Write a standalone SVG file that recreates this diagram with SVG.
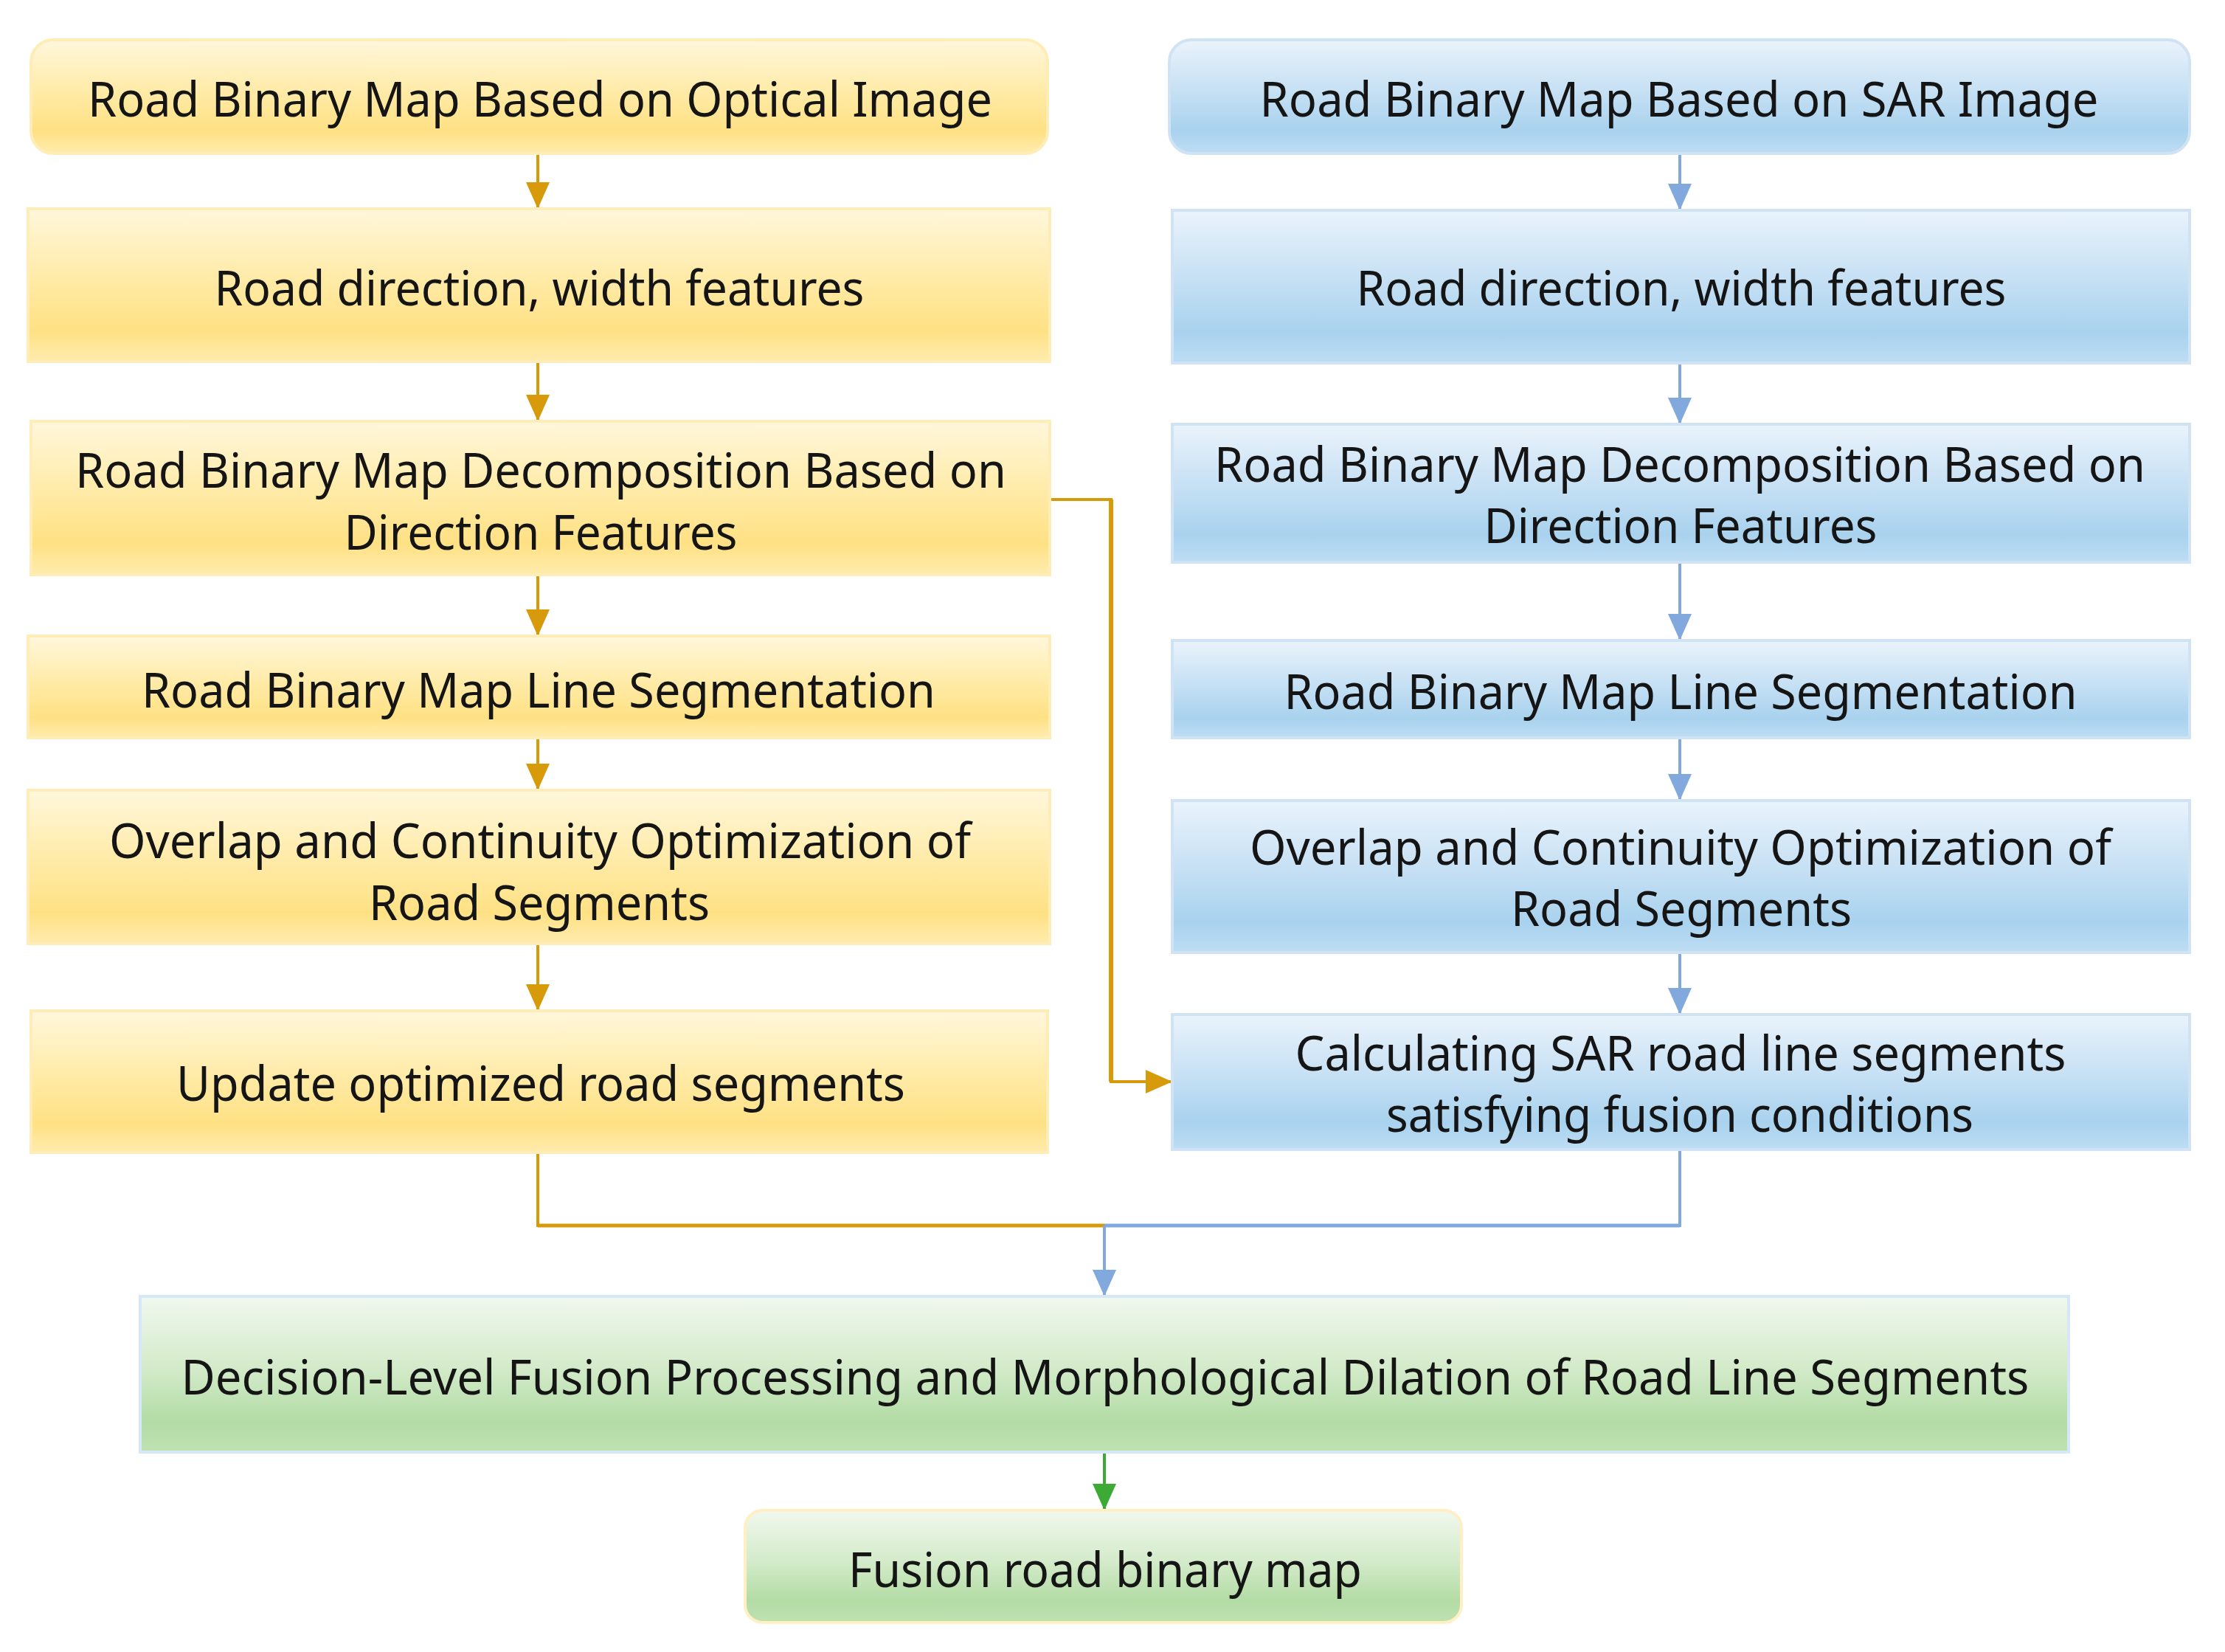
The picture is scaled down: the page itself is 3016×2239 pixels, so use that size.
<svg xmlns="http://www.w3.org/2000/svg" width="3016" height="2239" viewBox="0 0 3016 2239">
<defs>
<linearGradient id="gy" x1="0" y1="0" x2="0" y2="1">
<stop offset="0" stop-color="#FFF7DC"/>
<stop offset="0.45" stop-color="#FFEBA8"/>
<stop offset="0.8" stop-color="#FFE184"/>
<stop offset="1" stop-color="#FFEBAE"/>
</linearGradient>
<linearGradient id="gb" x1="0" y1="0" x2="0" y2="1">
<stop offset="0" stop-color="#EAF3FB"/>
<stop offset="0.45" stop-color="#C6E0F4"/>
<stop offset="0.8" stop-color="#A9D2EE"/>
<stop offset="1" stop-color="#BEDDF3"/>
</linearGradient>
<linearGradient id="gg" x1="0" y1="0" x2="0" y2="1">
<stop offset="0" stop-color="#F1F8EE"/>
<stop offset="0.45" stop-color="#D4EBCB"/>
<stop offset="0.8" stop-color="#B3DCA5"/>
<stop offset="1" stop-color="#BFE1B2"/>
</linearGradient>
<marker id="ay" viewBox="0 0 36 32" refX="36" refY="16" markerWidth="36" markerHeight="32" markerUnits="userSpaceOnUse" orient="auto"><path d="M0,0 L36,16 L0,32 Z" fill="#D69A0B"/></marker>
<marker id="ab" viewBox="0 0 36 32" refX="36" refY="16" markerWidth="36" markerHeight="32" markerUnits="userSpaceOnUse" orient="auto"><path d="M0,0 L36,16 L0,32 Z" fill="#82A9DD"/></marker>
<marker id="ag" viewBox="0 0 36 32" refX="36" refY="16" markerWidth="36" markerHeight="32" markerUnits="userSpaceOnUse" orient="auto"><path d="M0,0 L36,16 L0,32 Z" fill="#3DAA36"/></marker>
</defs>
<style>
.y{fill:url(#gy);stroke:#FFEDB8;stroke-width:4}
.b{fill:url(#gb);stroke:#CFE3F5;stroke-width:4}
.g{fill:url(#gg);stroke:#D6E8F5;stroke-width:4}
.g2{fill:url(#gg);stroke:#FFEFC2;stroke-width:4}
text{font-family:"Noto Sans","Open Sans","Liberation Sans",sans-serif;font-size:66px;fill:#151515;text-anchor:middle}
.cy{stroke:#D69A0B;stroke-width:4;fill:none}
.cb{stroke:#82A9DD;stroke-width:4;fill:none}
.cg{stroke:#3DAA36;stroke-width:4;fill:none}
</style>
<rect width="3016" height="2239" fill="#FFFFFF"/>
<g id="connectors">
<line class="cy" x1="729" y1="208" x2="729" y2="283" marker-end="url(#ay)"/>
<line class="cy" x1="729" y1="490" x2="729" y2="571" marker-end="url(#ay)"/>
<line class="cy" x1="729" y1="779" x2="729" y2="862" marker-end="url(#ay)"/>
<line class="cy" x1="729" y1="1000" x2="729" y2="1071" marker-end="url(#ay)"/>
<line class="cy" x1="729" y1="1279" x2="729" y2="1370" marker-end="url(#ay)"/>
<line class="cb" x1="2277" y1="208" x2="2277" y2="285" marker-end="url(#ab)"/>
<line class="cb" x1="2277" y1="492" x2="2277" y2="575" marker-end="url(#ab)"/>
<line class="cb" x1="2277" y1="762" x2="2277" y2="868" marker-end="url(#ab)"/>
<line class="cb" x1="2277" y1="1000" x2="2277" y2="1085" marker-end="url(#ab)"/>
<line class="cb" x1="2277" y1="1291" x2="2277" y2="1375" marker-end="url(#ab)"/>
<path class="cy" d="M1423,677 L1506,677 L1506,1466 L1589,1466" marker-end="url(#ay)"/>
<line class="cy" x1="1506" y1="677" x2="1506" y2="1466" style="stroke-width:6"/>
<path class="cy" d="M729,1562 L729,1661 L1497,1661"/>
<line class="cy" x1="729" y1="1661" x2="1497" y2="1661" style="stroke-width:5"/>
<path class="cb" d="M2277,1558 L2277,1661 L1497,1661"/>
<line class="cb" x1="1497" y1="1661" x2="2277" y2="1661" style="stroke-width:5"/>
<line class="cb" x1="1497" y1="1661" x2="1497" y2="1757" marker-end="url(#ab)"/>
<line class="cg" x1="1497" y1="1968" x2="1497" y2="2047" marker-end="url(#ag)"/>
</g>
<g id="node-opt-1"><rect class="y" x="42" y="54" width="1378" height="154" rx="30"/><text x="732" y="158" textLength="1226" lengthAdjust="spacingAndGlyphs">Road Binary Map Based on Optical Image</text></g>
<g id="node-opt-2"><rect class="y" x="38" y="283" width="1385" height="207"/><text x="731" y="414" textLength="881" lengthAdjust="spacingAndGlyphs">Road direction, width features</text></g>
<g id="node-opt-3"><rect class="y" x="42" y="571" width="1381" height="208"/><text x="733" y="661" textLength="1262" lengthAdjust="spacingAndGlyphs">Road Binary Map Decomposition Based on</text><text x="733" y="745" textLength="533" lengthAdjust="spacingAndGlyphs">Direction Features</text></g>
<g id="node-opt-4"><rect class="y" x="38" y="862" width="1385" height="138"/><text x="730" y="959" textLength="1076" lengthAdjust="spacingAndGlyphs">Road Binary Map Line Segmentation</text></g>
<g id="node-opt-5"><rect class="y" x="38" y="1071" width="1385" height="208"/><text x="732" y="1163" textLength="1168" lengthAdjust="spacingAndGlyphs">Overlap and Continuity Optimization of</text><text x="731" y="1247" textLength="462" lengthAdjust="spacingAndGlyphs">Road Segments</text></g>
<g id="node-opt-6"><rect class="y" x="42" y="1370" width="1378" height="192"/><text x="733" y="1492" textLength="988" lengthAdjust="spacingAndGlyphs">Update optimized road segments</text></g>
<g id="node-sar-1"><rect class="b" x="1585" y="54" width="1383" height="154" rx="30"/><text x="2276" y="158" textLength="1137" lengthAdjust="spacingAndGlyphs">Road Binary Map Based on SAR Image</text></g>
<g id="node-sar-2"><rect class="b" x="1589" y="285" width="1379" height="207"/><text x="2279" y="414" textLength="881" lengthAdjust="spacingAndGlyphs">Road direction, width features</text></g>
<g id="node-sar-3"><rect class="b" x="1589" y="575" width="1379" height="187"/><text x="2277" y="653" textLength="1262" lengthAdjust="spacingAndGlyphs">Road Binary Map Decomposition Based on</text><text x="2278" y="736" textLength="533" lengthAdjust="spacingAndGlyphs">Direction Features</text></g>
<g id="node-sar-4"><rect class="b" x="1589" y="868" width="1379" height="132"/><text x="2278" y="961" textLength="1075" lengthAdjust="spacingAndGlyphs">Road Binary Map Line Segmentation</text></g>
<g id="node-sar-5"><rect class="b" x="1589" y="1085" width="1379" height="206"/><text x="2278" y="1172" textLength="1168" lengthAdjust="spacingAndGlyphs">Overlap and Continuity Optimization of</text><text x="2279" y="1255" textLength="462" lengthAdjust="spacingAndGlyphs">Road Segments</text></g>
<g id="node-sar-6"><rect class="b" x="1589" y="1375" width="1379" height="183"/><text x="2278" y="1451" textLength="1045" lengthAdjust="spacingAndGlyphs">Calculating SAR road line segments</text><text x="2277" y="1534" textLength="796" lengthAdjust="spacingAndGlyphs">satisfying fusion conditions</text></g>
<g id="node-fusion"><rect class="g" x="190" y="1757" width="2614" height="211"/><text x="1498" y="1890" textLength="2505" lengthAdjust="spacingAndGlyphs">Decision-Level Fusion Processing and Morphological Dilation of Road Line Segments</text></g>
<g id="node-result"><rect class="g2" x="1010" y="2047" width="971" height="152" rx="24"/><text x="1498" y="2151" textLength="696" lengthAdjust="spacingAndGlyphs">Fusion road binary map</text></g>
</svg>
